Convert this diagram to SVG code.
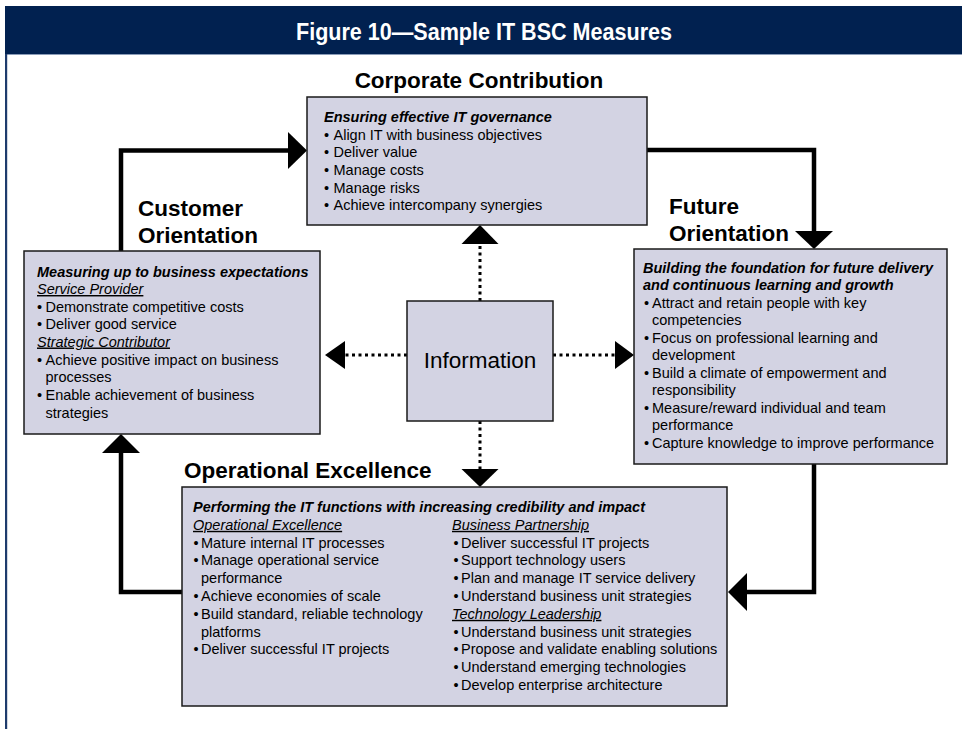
<svg xmlns="http://www.w3.org/2000/svg" width="962" height="729" viewBox="0 0 962 729">
<style>
  text { font-family: "Liberation Sans", Arial, sans-serif; fill: #000; }
  .box { fill: #d3d3e3; stroke: #1a1a1a; stroke-width: 1.5; }
  .title { font-size: 22.5px; font-weight: bold; }
  .t { font-size: 14.5px; }
  .bi { font-weight: bold; font-style: italic; }
  .u { font-style: italic; text-decoration: underline; }
  .solid { fill: none; stroke: #000; stroke-width: 4.5; stroke-linejoin: miter; stroke-linecap: butt; }
  .dot { fill: none; stroke: #000; stroke-width: 3; stroke-dasharray: 3 3.5; }
  .head { fill: #000; stroke: none; }
</style>
<rect x="0" y="0" width="962" height="729" fill="#ffffff"/>
<g id="frame">
  <rect x="5" y="6" width="957" height="48" fill="#012150"/>
  <line x1="5" y1="54.5" x2="962" y2="54.5" stroke="#8a9cb8" stroke-width="1"/>
  <rect x="5" y="54" width="2.2" height="675" fill="#1e3b6c"/>
  <text x="484" y="40" text-anchor="middle" font-size="24.5" font-weight="bold" fill="#ffffff" style="fill:#ffffff" textLength="376" lengthAdjust="spacingAndGlyphs">Figure 10—Sample IT BSC Measures</text>
</g>
<g id="connectors">
  <polyline class="solid" points="121,251 121,150.5 290,150.5"/>
  <polygon class="head" points="307,150.5 288,132 288,169"/>
  <polyline class="solid" points="647,150 814,150 814,233"/>
  <polygon class="head" points="814,249 795,231 833,231"/>
  <polyline class="solid" points="814,464 814,592 745,592"/>
  <polygon class="head" points="728,592 747,573 747,611"/>
  <polyline class="solid" points="182,592 121,592 121,451"/>
  <polygon class="head" points="121,434 102,453 140,453"/>
  <line class="dot" x1="480" y1="301" x2="480" y2="244"/>
  <polygon class="head" points="480,225 461.5,244 498.5,244"/>
  <line class="dot" x1="480" y1="421" x2="480" y2="469"/>
  <polygon class="head" points="480,487 461.5,469 498.5,469"/>
  <line class="dot" x1="407" y1="355" x2="345" y2="355"/>
  <polygon class="head" points="325,355 345,341 345,369"/>
  <line class="dot" x1="553" y1="355" x2="615" y2="355"/>
  <polygon class="head" points="634,355 615,341 615,369"/>
</g>
<g id="corporate">
  <text class="title" x="479" y="88" text-anchor="middle">Corporate Contribution</text>
  <rect class="box" x="307" y="97" width="340" height="128"/>
  <text class="t bi" x="324" y="122">Ensuring effective IT governance</text>
  <text class="t"><tspan x="324" y="139.5">•</tspan><tspan x="333.5">Align IT with business objectives</tspan></text>
  <text class="t"><tspan x="324" y="157">•</tspan><tspan x="333.5">Deliver value</tspan></text>
  <text class="t"><tspan x="324" y="175">•</tspan><tspan x="333.5">Manage costs</tspan></text>
  <text class="t"><tspan x="324" y="192.5">•</tspan><tspan x="333.5">Manage risks</tspan></text>
  <text class="t"><tspan x="324" y="210">•</tspan><tspan x="333.5">Achieve intercompany synergies</tspan></text>
</g>
<g id="customer">
  <text class="title" x="138" y="216">Customer</text>
  <text class="title" x="138" y="243">Orientation</text>
  <rect class="box" x="24" y="251" width="296" height="183"/>
  <text class="t bi" x="37" y="276.5">Measuring up to business expectations</text>
  <text class="t u" x="37" y="294">Service Provider</text>
  <text class="t"><tspan x="37" y="311.5">•</tspan><tspan x="45.5">Demonstrate competitive costs</tspan></text>
  <text class="t"><tspan x="37" y="329">•</tspan><tspan x="45.5">Deliver good service</tspan></text>
  <text class="t u" x="37" y="346.5">Strategic Contributor</text>
  <text class="t"><tspan x="37" y="364.5">•</tspan><tspan x="45.5">Achieve positive impact on business</tspan></text>
  <text class="t" x="45.5" y="382">processes</text>
  <text class="t"><tspan x="37" y="400">•</tspan><tspan x="45.5">Enable achievement of business</tspan></text>
  <text class="t" x="45.5" y="417.5">strategies</text>
</g>
<g id="future">
  <text class="title" x="669" y="214">Future</text>
  <text class="title" x="669" y="241">Orientation</text>
  <rect class="box" x="634" y="249" width="313" height="215"/>
  <text class="t bi" x="643" y="272.5">Building the foundation for future delivery</text>
  <text class="t bi" x="643" y="290">and continuous learning and growth</text>
  <text class="t"><tspan x="644" y="307.5">•</tspan><tspan x="652">Attract and retain people with key</tspan></text>
  <text class="t" x="652" y="325">competencies</text>
  <text class="t"><tspan x="644" y="342.5">•</tspan><tspan x="652">Focus on professional learning and</tspan></text>
  <text class="t" x="652" y="360">development</text>
  <text class="t"><tspan x="644" y="377.5">•</tspan><tspan x="652">Build a climate of empowerment and</tspan></text>
  <text class="t" x="652" y="395">responsibility</text>
  <text class="t"><tspan x="644" y="412.5">•</tspan><tspan x="652">Measure/reward individual and team</tspan></text>
  <text class="t" x="652" y="430">performance</text>
  <text class="t"><tspan x="644" y="447.5">•</tspan><tspan x="652">Capture knowledge to improve performance</tspan></text>
</g>
<g id="information">
  <rect class="box" x="407" y="301" width="146" height="120"/>
  <text x="480" y="368" text-anchor="middle" font-size="22.5">Information</text>
</g>
<g id="operational">
  <text class="title" x="184" y="478">Operational Excellence</text>
  <rect class="box" x="182" y="487" width="545" height="219"/>
  <text class="t bi" x="193" y="512">Performing the IT functions with increasing credibility and impact</text>
  <text class="t u" x="193" y="529.8">Operational Excellence</text>
  <text class="t"><tspan x="193.5" y="547.6">•</tspan><tspan x="201">Mature internal IT processes</tspan></text>
  <text class="t"><tspan x="193.5" y="565.4">•</tspan><tspan x="201">Manage operational service</tspan></text>
  <text class="t" x="201" y="583.2">performance</text>
  <text class="t"><tspan x="193.5" y="601">•</tspan><tspan x="201">Achieve economies of scale</tspan></text>
  <text class="t"><tspan x="193.5" y="618.8">•</tspan><tspan x="201">Build standard, reliable technology</tspan></text>
  <text class="t" x="201" y="636.6">platforms</text>
  <text class="t"><tspan x="193.5" y="654.4">•</tspan><tspan x="201">Deliver successful IT projects</tspan></text>
  <text class="t u" x="452" y="529.8">Business Partnership</text>
  <text class="t"><tspan x="453.5" y="547.6">•</tspan><tspan x="461">Deliver successful IT projects</tspan></text>
  <text class="t"><tspan x="453.5" y="565.4">•</tspan><tspan x="461">Support technology users</tspan></text>
  <text class="t"><tspan x="453.5" y="583.2">•</tspan><tspan x="461">Plan and manage IT service delivery</tspan></text>
  <text class="t"><tspan x="453.5" y="601">•</tspan><tspan x="461">Understand business unit strategies</tspan></text>
  <text class="t u" x="452" y="618.8">Technology Leadership</text>
  <text class="t"><tspan x="453.5" y="636.6">•</tspan><tspan x="461">Understand business unit strategies</tspan></text>
  <text class="t"><tspan x="453.5" y="654.4">•</tspan><tspan x="461">Propose and validate enabling solutions</tspan></text>
  <text class="t"><tspan x="453.5" y="672.2">•</tspan><tspan x="461">Understand emerging technologies</tspan></text>
  <text class="t"><tspan x="453.5" y="690">•</tspan><tspan x="461">Develop enterprise architecture</tspan></text>
</g>
</svg>
